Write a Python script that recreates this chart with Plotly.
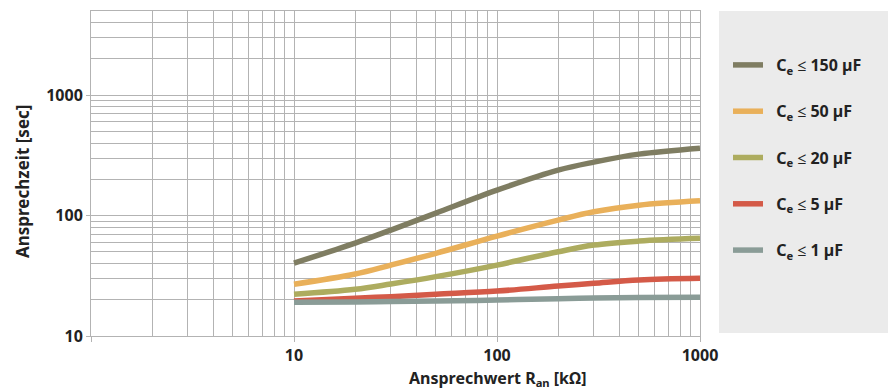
import plotly.graph_objects as go

# Ansprechwert R_an [kOhm]
r_an = [10, 20, 30, 50, 100, 200, 300, 500, 1000]

# Ansprechzeit [sec] je Kapazitaet
t_150 = [40.3, 59.1, 75.8, 104.9, 162.8, 238.6, 277.9, 323.8, 363]
t_50 = [26.9, 32.7, 38.8, 48.6, 67.6, 91.8, 107.6, 122, 132.7]
t_20 = [22.2, 24.4, 27.0, 31.1, 38.8, 50.1, 56.9, 61.4, 64.7]
t_5 = [19.5, 20.6, 21.2, 22.2, 23.6, 26.0, 27.4, 29.2, 30.1]
t_1 = [19.1, 19.2, 19.3, 19.5, 19.9, 20.4, 20.7, 20.9, 21.0]

series_names = ["C<sub>e</sub> ≤ 150 µF", "C<sub>e</sub> ≤ 50 µF", "C<sub>e</sub> ≤ 20 µF",
                "C<sub>e</sub> ≤ 5 µF", "C<sub>e</sub> ≤ 1 µF"]
series_values = [t_150, t_50, t_20, t_5, t_1]
series_colors = ["#7f7d62", "#e9b05a", "#adac5f", "#d45a48", "#8a9c97"]

x_ticks = [1, 10, 100, 1000]
x_ticktext = ["", "10", "100", "1000"]
y_ticks = [10, 100, 1000]
y_ticktext = ["10", "100", "1000"]

x_minor = [m * d for d in (1, 10, 100) for m in range(2, 10)]
y_minor = [m * d for d in (10, 100) for m in range(2, 10)] + [2000, 3000, 4000, 5000]

FONT = "Noto Sans"
GRID = "#b3b3b3"
TXT = "#222222"

fig = go.Figure()

for name, vals, col in zip(series_names, series_values, series_colors):
    fig.add_trace(go.Scatter(
        x=r_an, y=vals, name="\u00a0\u00a0<b>" + name + "</b>", mode="lines",
        line=dict(color=col, width=5.5, shape="spline", smoothing=1.0),
        legendgroup=name
    ))

# grauer Kasten hinter der Legende
fig.add_shape(type="rect", xref="paper", yref="paper",
              x0=(719 - 91) / 609, x1=(888 - 91) / 609,
              y0=(336 - 333) / 325, y1=(336 - 11) / 325,
              fillcolor="#ebebeb", line=dict(width=0), layer="below")

# Achsentitel
fig.add_annotation(text="<b>Ansprechwert R<sub>an</sub> [kΩ]</b>",
                   x=2, xref="x", y=(336 - 378) / 325, yref="paper",
                   xanchor="center", yanchor="middle", showarrow=False,
                   font=dict(family=FONT, size=16, color=TXT))
fig.add_annotation(text="<b>Ansprechzeit [sec]</b>", textangle=-90,
                   x=(22 - 91) / 609, xref="paper", y=(336 - 182) / 325, yref="paper",
                   xanchor="center", yanchor="middle", showarrow=False,
                   font=dict(family=FONT, size=17, color=TXT))

fig.update_xaxes(
    type="log", range=[0, 3],
    tickvals=x_ticks, ticktext=x_ticktext,
    ticks="outside", ticklen=5, tickcolor=GRID,
    tickfont=dict(family=FONT, size=16, color=TXT, weight="bold"),
    showgrid=True, gridcolor=GRID, gridwidth=1,
    minor=dict(tickvals=x_minor, showgrid=True, gridcolor=GRID, gridwidth=1, ticks=""),
    showline=True, linecolor=GRID, linewidth=1, mirror=True,
    zeroline=False
)
fig.update_yaxes(
    type="log", range=[1, 3.699],
    tickvals=y_ticks, ticktext=y_ticktext,
    ticks="outside", ticklen=4, tickcolor=GRID,
    tickfont=dict(family=FONT, size=16, color=TXT, weight="bold"),
    showgrid=True, gridcolor=GRID, gridwidth=1,
    minor=dict(tickvals=y_minor, showgrid=True, gridcolor=GRID, gridwidth=1, ticks=""),
    showline=True, linecolor=GRID, linewidth=1, mirror=True,
    zeroline=False
)

fig.update_layout(
    width=888, height=390,
    margin=dict(l=91, r=188, t=11, b=54, autoexpand=False),
    paper_bgcolor="white", plot_bgcolor="white",
    font=dict(family=FONT, color=TXT),
    showlegend=True,
    legend=dict(
        x=(728 - 91) / 609, xanchor="left",
        y=(336 - 48) / 325, yanchor="top",
        bgcolor="rgba(0,0,0,0)",
        font=dict(family=FONT, size=16, color=TXT),
        tracegroupgap=22.5, traceorder="grouped"
    )
)

fig.write_html("out.html", config={"displayModeBar": False},
               post_script="document.body.style.margin='0px';")
